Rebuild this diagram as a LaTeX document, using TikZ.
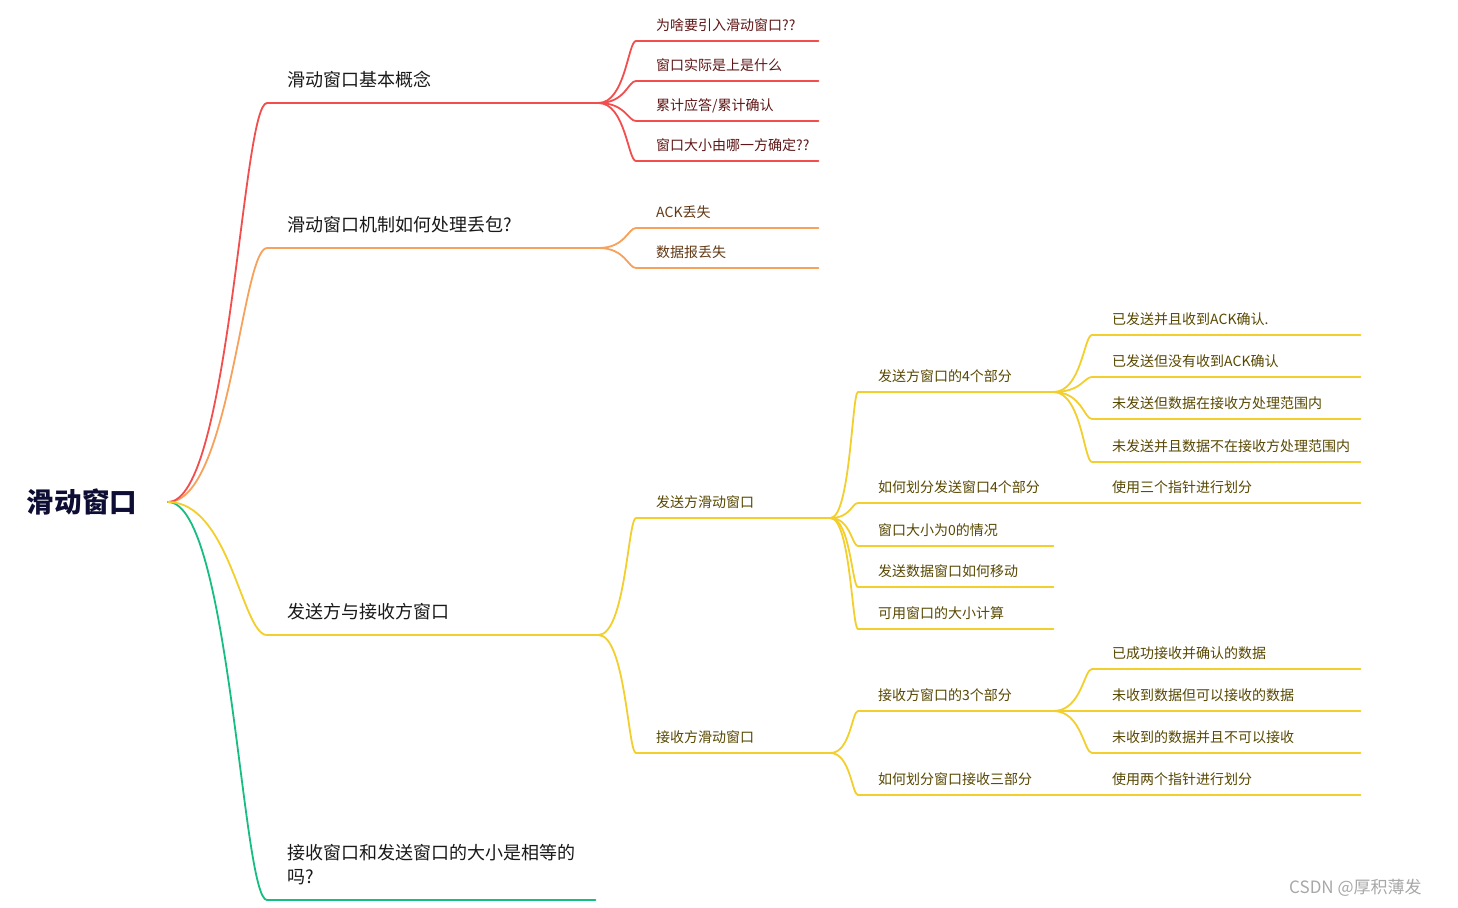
\documentclass[tikz,border=0pt]{standalone}
\usepackage{fontspec}
\setmainfont{Noto Sans CJK SC}
\usepackage{tikz}
\usetikzlibrary{positioning, calc}

\definecolor{rootblue}{RGB}{14, 14, 52}
\definecolor{redline}{RGB}{242, 78, 78}
\definecolor{orangeline}{RGB}{247, 162, 92}
\definecolor{yellowline}{RGB}{242, 207, 44}
\definecolor{greenline}{RGB}{22, 190, 130}
\definecolor{redtext}{RGB}{96, 22, 22}
\definecolor{orangetext}{RGB}{100, 58, 22}
\definecolor{yellowtext}{RGB}{88, 72, 0}
\definecolor{marktext}{RGB}{168, 168, 168}

\tikzset{
  topic/.style={anchor=south west, inner xsep=0pt, align=left, text depth=0pt},
  bigtopic/.style={topic, inner ysep=16pt, text=black!90, font=\fontsize{18}{24}\selectfont},
  smalltopic/.style={topic, inner ysep=10.5pt, font=\fontsize{14}{17}\selectfont},
  branch/.style={line width=1.8pt, line cap=round, draw=#1}
}

\begin{document}
\begin{tikzpicture}[x=1pt, y=-1pt]
  \path[fill=white, use as bounding box] (0,0) rectangle (1458,907);

  % root
  \node[text=rootblue, font=\fontsize{27.5}{30}\selectfont\bfseries] (root) at (82,502) {滑动窗口};
  \coordinate (hub) at (168,502);

  % first level
  \node[bigtopic, text width=331pt] (basic) at (267,103) {\hspace*{20pt}滑动窗口基本概念};
  \node[bigtopic, text width=331pt] (loss) at (267,248) {\hspace*{20pt}滑动窗口机制如何处理丢包?};
  \node[bigtopic, text width=331pt] (both) at (267,635) {\hspace*{20pt}发送方与接收方窗口};
  \node[bigtopic, text width=328pt, text depth=24pt] (equal) at (267,900) {\hspace*{20pt}接收窗口和发送窗口的大小是相等的\\\hspace*{20pt}吗?};

  \draw[branch=orangeline] (hub) .. controls +(62,0) and +(-25,0) .. (loss.south west) -- (loss.south east);
  \draw[branch=redline] (hub) .. controls +(62,0) and +(-25,0) .. (basic.south west) -- (basic.south east);
  \draw[branch=greenline] (hub) .. controls +(62,0) and +(-25,0) .. (equal.south west) -- (equal.south east);
  \draw[branch=yellowline] (hub) .. controls +(62,0) and +(-25,0) .. (both.south west) -- (both.south east);

  % basic concepts
  \node[smalltopic, text=redtext, text width=182pt] (why) at (636,41) {\hspace*{20pt}为啥要引入滑动窗口??};
  \node[smalltopic, text=redtext, text width=182pt] (what) at (636,81) {\hspace*{20pt}窗口实际是上是什么};
  \node[smalltopic, text=redtext, text width=182pt] (ack) at (636,121) {\hspace*{20pt}累计应答/累计确认};
  \node[smalltopic, text=redtext, text width=182pt] (who) at (636,161) {\hspace*{20pt}窗口大小由哪一方确定??};
  \foreach \n in {why, what, ack, who}
    \draw[branch=redline] (basic.south east) .. controls +(27,0) and +(-8,0) .. (\n.south west) -- (\n.south east);

  % packet loss
  \node[smalltopic, text=orangetext, text width=182pt] (acklost) at (636,228) {\hspace*{20pt}ACK丢失};
  \node[smalltopic, text=orangetext, text width=182pt] (datalost) at (636,268) {\hspace*{20pt}数据报丢失};
  \foreach \n in {acklost, datalost}
    \draw[branch=orangeline] (loss.south east) .. controls +(27,0) and +(-8,0) .. (\n.south west) -- (\n.south east);

  % sender and receiver
  \node[smalltopic, text=yellowtext, text width=194pt] (send) at (636,518) {\hspace*{20pt}发送方滑动窗口};
  \node[smalltopic, text=yellowtext, text width=194pt] (recv) at (636,753) {\hspace*{20pt}接收方滑动窗口};
  \foreach \n in {send, recv}
    \draw[branch=yellowline] (both.south east) .. controls +(27,0) and +(-8,0) .. (\n.south west) -- (\n.south east);

  \node[smalltopic, text=yellowtext, text width=195pt] (sfour) at (858,392) {\hspace*{20pt}发送方窗口的4个部分};
  \node[smalltopic, text=yellowtext, text width=195pt] (ssplit) at (858,503) {\hspace*{20pt}如何划分发送窗口4个部分};
  \node[smalltopic, text=yellowtext, text width=195pt] (szero) at (858,546) {\hspace*{20pt}窗口大小为0的情况};
  \node[smalltopic, text=yellowtext, text width=195pt] (smove) at (858,587) {\hspace*{20pt}发送数据窗口如何移动};
  \node[smalltopic, text=yellowtext, text width=195pt] (savail) at (858,629) {\hspace*{20pt}可用窗口的大小计算};
  \foreach \n in {sfour, ssplit, szero, smove, savail}
    \draw[branch=yellowline] (send.south east) .. controls +(20,0) and +(-6,0) .. (\n.south west) -- (\n.south east);

  \node[smalltopic, text=yellowtext, text width=195pt] (rthree) at (858,711) {\hspace*{20pt}接收方窗口的3个部分};
  \node[smalltopic, text=yellowtext, text width=195pt] (rsplit) at (858,795) {\hspace*{20pt}如何划分窗口接收三部分};
  \foreach \n in {rthree, rsplit}
    \draw[branch=yellowline] (recv.south east) .. controls +(20,0) and +(-6,0) .. (\n.south west) -- (\n.south east);

  % sender window parts
  \node[smalltopic, text=yellowtext, text width=268pt] (sa) at (1092,335) {\hspace*{20pt}已发送并且收到ACK确认.};
  \node[smalltopic, text=yellowtext, text width=268pt] (sb) at (1092,377) {\hspace*{20pt}已发送但没有收到ACK确认};
  \node[smalltopic, text=yellowtext, text width=268pt] (sc) at (1092,419) {\hspace*{20pt}未发送但数据在接收方处理范围内};
  \node[smalltopic, text=yellowtext, text width=268pt] (sd) at (1092,462) {\hspace*{20pt}未发送并且数据不在接收方处理范围内};
  \foreach \n in {sa, sb, sc, sd}
    \draw[branch=yellowline] (sfour.south east) .. controls +(28,0) and +(-8,0) .. (\n.south west) -- (\n.south east);
  \node[smalltopic, text=yellowtext, text width=268pt] (three) at (1092,503) {\hspace*{20pt}使用三个指针进行划分};
  \draw[branch=yellowline] (ssplit.south east) -- (three.south west) -- (three.south east);

  % receiver window parts
  \node[smalltopic, text=yellowtext, text width=268pt] (ra) at (1092,669) {\hspace*{20pt}已成功接收并确认的数据};
  \node[smalltopic, text=yellowtext, text width=268pt] (rb) at (1092,711) {\hspace*{20pt}未收到数据但可以接收的数据};
  \node[smalltopic, text=yellowtext, text width=268pt] (rc) at (1092,753) {\hspace*{20pt}未收到的数据并且不可以接收};
  \foreach \n in {ra, rb, rc}
    \draw[branch=yellowline] (rthree.south east) .. controls +(28,0) and +(-8,0) .. (\n.south west) -- (\n.south east);
  \node[smalltopic, text=yellowtext, text width=268pt] (two) at (1092,795) {\hspace*{20pt}使用两个指针进行划分};
  \draw[branch=yellowline] (rsplit.south east) -- (two.south west) -- (two.south east);

  % watermark
  \node[anchor=west, inner sep=0pt, text=marktext, font=\fontsize{17}{20}\selectfont] (mark) at (1289,888) {CSDN @厚积薄发};
\end{tikzpicture}
\end{document}
